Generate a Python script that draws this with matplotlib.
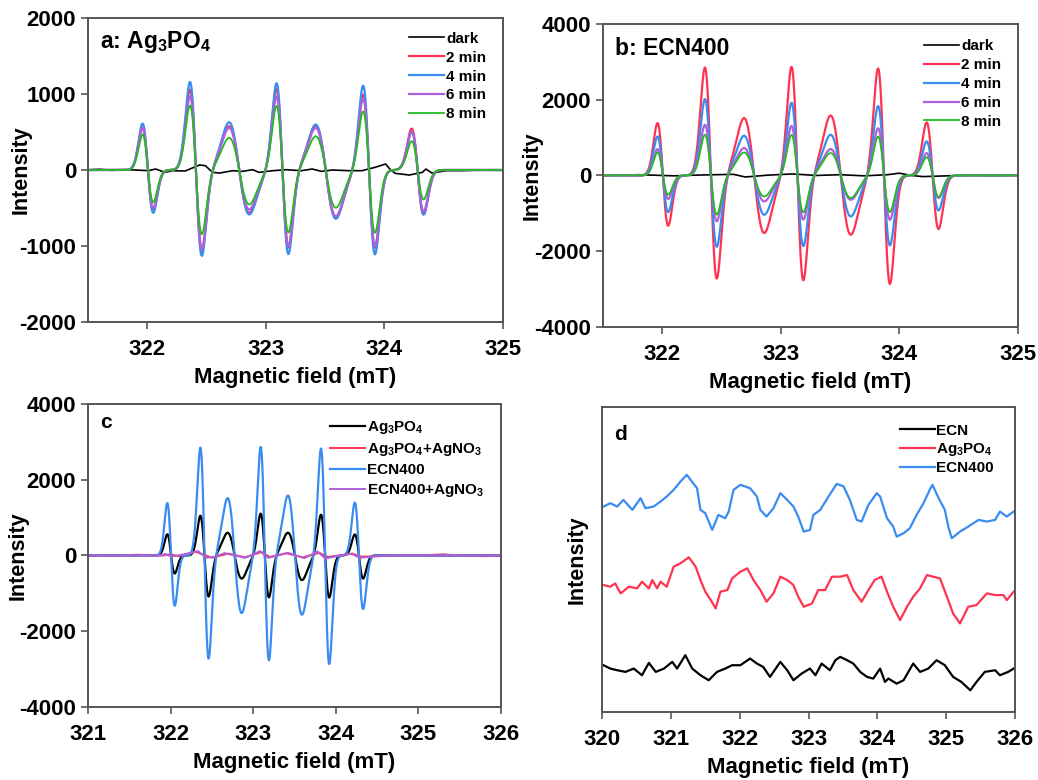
import numpy as np
import matplotlib
matplotlib.use("Agg")
import matplotlib.pyplot as plt

plt.rcParams["font.family"] = ["Liberation Sans", "DejaVu Sans"]
plt.rcParams["font.weight"] = "bold"
plt.rcParams["axes.unicode_minus"] = False
plt.rcParams["mathtext.fontset"] = "custom"
plt.rcParams["mathtext.rm"] = "Liberation Sans:bold"
plt.rcParams["mathtext.bf"] = "Liberation Sans:bold"
plt.rcParams["mathtext.default"] = "rm"

# --- hyperfine lines: field of the upper and lower lobe of each line (mT) ---
line_max = [321.96, 322.36, 322.69, 323.09, 323.42, 323.82, 324.23]
line_min = [322.05, 322.46, 322.86, 323.19, 323.59, 323.92, 324.33]

# panel a: Ag3PO4, lobe heights per line
a_2min_pos = [554, 1058, 575, 1067, 584, 996, 545]
a_2min_neg = [-519, -1067, -563, -1023, -628, -1023, -585]
a_4min_pos = [611, 1159, 628, 1146, 598, 1114, 500]
a_4min_neg = [-563, -1133, -585, -1110, -641, -1110, -585]
a_6min_pos = [554, 970, 554, 970, 554, 949, 510]
a_6min_neg = [-500, -1045, -519, -1001, -607, -1001, -545]
a_8min_pos = [466, 847, 423, 847, 444, 773, 379]
a_8min_neg = [-423, -847, -453, -825, -497, -825, -388]
a_dark_x = [321.47, 321.6, 321.7, 321.8, 321.9, 322.01, 322.07, 322.15, 322.21, 322.32,
            322.44, 322.49, 322.55, 322.61, 322.72, 322.8, 322.89, 322.94, 323.06, 323.17,
            323.3, 323.39, 323.47, 323.56, 323.7, 323.81, 323.92, 324.01, 324.04, 324.09,
            324.21, 324.32, 324.35, 324.4, 324.52, 324.66, 324.8, 325.0]
a_dark_y = [0, 10, -5, 5, 0, -9, 13, -31, -9, -13,
            66, 57, -31, -40, -9, -18, 4, -31, -9, 4,
            -9, 13, -18, 0, -9, -9, 35, 79, 22, -44,
            -66, -31, 13, -40, -9, -9, 0, -4]

# panel b: ECN400
b_2min_pos = [1383, 2850, 1514, 2876, 1583, 2834, 1400]
b_2min_neg = [-1327, -2734, -1520, -2778, -1565, -2866, -1415]
b_4min_pos = [1029, 2016, 1048, 1926, 1074, 1839, 897]
b_4min_neg = [-966, -1890, -1037, -1873, -1082, -1847, -924]
b_6min_pos = [696, 1338, 723, 1311, 696, 1250, 591]
b_6min_neg = [-623, -1214, -686, -1169, -641, -1169, -596]
b_8min_pos = [607, 1074, 607, 1074, 591, 1029, 485]
b_8min_neg = [-509, -1037, -554, -976, -596, -966, -570]
b_dark_x = [321.5, 321.8, 322.1, 322.3, 322.6, 322.7, 322.9, 323.1, 323.3, 323.5,
            323.7, 323.9, 324.0, 324.1, 324.2, 324.4, 324.6, 324.8, 325.0]
b_dark_y = [0, 20, -10, 10, 30, -40, 10, 40, 0, 20,
            -10, 20, 60, 0, -30, -10, 10, 0, 10]

# panel c
c_ag_pos = [560, 1050, 600, 1110, 600, 1080, 555]
c_ag_neg = [-475, -1090, -610, -1110, -650, -1110, -610]
c_agno3_x = [321.0, 321.3, 321.6, 321.9, 322.0, 322.1, 322.3, 322.4, 322.5, 322.7,
             322.9, 323.1, 323.2, 323.4, 323.6, 323.8, 323.9, 324.2, 324.3, 324.5,
             324.8, 325.0, 325.3, 325.5, 325.8, 326.0]
c_agno3_y = [10, -10, 20, 0, 30, -20, 100, 20, -60, 50,
             -50, 90, -40, 60, -50, 70, -40, 50, -30, -20,
             10, 0, 30, 0, -20, 0]
c_ecn_agno3_x = [321.0, 321.9, 321.93, 322.01, 322.15, 322.33, 322.43, 322.55, 322.65, 322.78,
                 322.9, 323.0, 323.08, 323.18, 323.3, 323.42, 323.52, 323.62, 323.78, 323.87,
                 324.05, 324.19, 324.29, 324.45, 324.6, 326.0]
c_ecn_agno3_y = [0, 0, 44, -27, 25, 115, -62, -27, 62, 0,
                 -62, 27, 115, -62, 0, 70, 0, -70, 106, -80,
                 0, 44, -62, -27, 0, 0]

# panel d (arbitrary units, curves already offset)
d_ecn400_x = [320.02, 320.12, 320.22, 320.31, 320.44, 320.56, 320.63, 320.75, 320.85, 320.94,
              321.04, 321.14, 321.23, 321.38, 321.43, 321.5, 321.6, 321.69, 321.79, 321.84,
              321.91, 322.01, 322.15, 322.25, 322.3, 322.39, 322.49, 322.59, 322.69, 322.78,
              322.85, 322.93, 323.02, 323.07, 323.17, 323.29, 323.41, 323.51, 323.6, 323.7,
              323.77, 323.87, 323.99, 324.04, 324.14, 324.23, 324.28, 324.38, 324.47, 324.57,
              324.67, 324.76, 324.8, 324.89, 324.98, 325.03, 325.08, 325.2, 325.32, 325.47,
              325.59, 325.71, 325.78, 325.88, 325.98]
d_ecn400_y = [61.5, 62.5, 61.5, 63.5, 60.5, 64.0, 61.0, 61.5, 63.0, 64.5,
              66.5, 69.0, 71.0, 67.0, 60.5, 59.5, 54.5, 59.0, 58.0, 60.0,
              66.5, 68.0, 67.0, 64.5, 60.5, 58.5, 61.0, 65.5, 63.5, 61.5,
              58.5, 54.0, 54.5, 59.0, 60.5, 64.5, 68.3, 67.5, 63.5, 57.5,
              57.0, 62.0, 65.5, 64.5, 58.0, 55.5, 52.5, 53.5, 55.0, 59.0,
              62.5, 66.5, 68.0, 64.0, 60.5, 55.5, 52.0, 54.0, 55.5, 57.5,
              57.0, 57.5, 60.0, 58.5, 60.0]
d_ag_x = [320.02, 320.12, 320.19, 320.27, 320.39, 320.51, 320.58, 320.68, 320.73, 320.8,
          320.85, 320.94, 321.04, 321.14, 321.26, 321.36, 321.43, 321.5, 321.58, 321.65,
          321.72, 321.82, 321.89, 322.01, 322.11, 322.2, 322.3, 322.39, 322.49, 322.59,
          322.69, 322.78, 322.85, 322.93, 323.05, 323.14, 323.24, 323.34, 323.46, 323.56,
          323.65, 323.77, 323.87, 323.96, 324.06, 324.14, 324.23, 324.33, 324.43, 324.52,
          324.62, 324.72, 324.81, 324.91, 325.01, 325.1, 325.2, 325.32, 325.44, 325.59,
          325.71, 325.83, 325.88, 325.98]
d_ag_y = [38.0, 37.5, 38.5, 35.5, 37.5, 37.0, 39.0, 37.0, 39.5, 37.0,
          39.0, 37.5, 43.5, 44.5, 46.3, 43.5, 39.5, 36.0, 33.5, 31.0,
          36.0, 36.5, 40.0, 42.0, 43.0, 39.5, 36.5, 33.0, 35.5, 40.5,
          39.5, 38.0, 34.5, 31.5, 32.5, 36.5, 36.5, 40.5, 40.5, 41.0,
          36.5, 33.0, 36.5, 39.5, 40.5, 36.0, 31.5, 27.5, 31.5, 34.5,
          37.0, 41.0, 40.5, 40.0, 34.5, 29.5, 26.5, 31.5, 32.0, 35.5,
          35.0, 35.0, 33.5, 36.0]
d_ecn_x = [320.02, 320.12, 320.22, 320.34, 320.46, 320.58, 320.68, 320.78, 320.9, 321.02,
           321.09, 321.21, 321.31, 321.43, 321.55, 321.67, 321.79, 321.89, 322.01, 322.15,
           322.25, 322.34, 322.44, 322.59, 322.69, 322.78, 322.9, 323.02, 323.1, 323.19,
           323.31, 323.39, 323.46, 323.56, 323.65, 323.75, 323.85, 323.94, 324.04, 324.11,
           324.16, 324.28, 324.38, 324.52, 324.62, 324.74, 324.86, 324.98, 325.1, 325.22,
           325.35, 325.44, 325.56, 325.71, 325.78, 325.9, 325.98]
d_ecn_y = [14.0, 13.0, 12.5, 12.0, 13.0, 11.0, 14.7, 12.0, 13.0, 15.0,
           13.0, 17.0, 13.0, 11.0, 9.5, 12.0, 13.0, 14.0, 14.0, 16.0,
           14.5, 13.5, 10.5, 15.0, 12.5, 9.5, 11.5, 13.0, 11.0, 14.5,
           12.5, 15.5, 16.5, 15.5, 14.5, 12.0, 10.5, 10.0, 13.0, 9.0,
           10.0, 8.5, 9.5, 14.5, 12.0, 13.0, 15.5, 14.0, 10.5, 9.0,
           6.5, 9.0, 12.0, 12.5, 11.0, 12.0, 13.0]

RED = "#ff3350"
BLUE = "#3a8cf0"
PURPLE = "#b060d8"
GREEN = "#22bb22"


def spectrum(x, pos, neg):
    # first-derivative lines, each lobe scaled to the height
    y = np.zeros_like(x)
    for xm, xn, p, n in zip(line_max, line_min, pos, neg):
        c = (xm + xn) / 2
        s = (xn - xm) / 2
        u = (x - c) / s
        y += np.where(u < 0, p, -n) * (-u) * np.exp(0.5 - u ** 2 / 2)
    return y


def style(ax, xlim, ylim, yticks, ylab_x):
    ax.set_xlim(*xlim)
    ax.set_ylim(*ylim)
    if yticks is None:
        ax.set_yticks([])
    else:
        ax.set_yticks(yticks)
    ax.set_xticks(range(int(np.ceil(xlim[0])), int(xlim[1]) + 1))
    for sp in ax.spines.values():
        sp.set_color("#555555")
        sp.set_linewidth(1.4)
    ax.tick_params(direction="out", length=5, width=1.2, labelsize=16, color="#555555")
    ax.tick_params(axis="x", pad=7)
    ax.set_xlabel("Magnetic field (mT)", fontsize=16, fontweight="bold")
    ax.set_ylabel("Intensity", fontsize=15.5, fontweight="bold")
    ax.xaxis.set_label_coords(0.5, -0.148)
    ax.yaxis.set_label_coords(ylab_x, 0.5)


fig = plt.figure(figsize=(10.38, 7.8), dpi=100)
ax_a = fig.add_axes([0.0848, 0.5872, 0.3998, 0.3897])
ax_b = fig.add_axes([0.5809, 0.5808, 0.3998, 0.3885])
ax_c = fig.add_axes([0.0848, 0.0936, 0.3979, 0.3885])
ax_d = fig.add_axes([0.5800, 0.0872, 0.3979, 0.3910])

leg_kw = dict(loc="upper right", frameon=False, handlelength=2.3, handletextpad=0.1,
              labelspacing=0.32, borderaxespad=0.3)

# a
x = np.linspace(321.5, 325.0, 1500)
ax_a.plot(a_dark_x, a_dark_y, color="black", lw=1.2, label="dark")
ax_a.plot(x, spectrum(x, a_2min_pos, a_2min_neg), color=RED, lw=1.6, label="2 min")
ax_a.plot(x, spectrum(x, a_4min_pos, a_4min_neg), color=BLUE, lw=1.6, label="4 min")
ax_a.plot(x, spectrum(x, a_6min_pos, a_6min_neg), color=PURPLE, lw=1.6, label="6 min")
ax_a.plot(x, spectrum(x, a_8min_pos, a_8min_neg), color=GREEN, lw=1.3, label="8 min")
style(ax_a, (321.5, 325), (-2000, 2000), [-2000, -1000, 0, 1000, 2000], -0.135)
ax_a.legend(prop={"size": 11, "weight": "bold"}, bbox_to_anchor=(0.985, 0.99), **leg_kw)
ax_a.text(0.03, 0.92, "a: Ag$_3$PO$_4$", transform=ax_a.transAxes, fontsize=16.5,
          fontweight="bold", va="center")

# b
ax_b.plot(b_dark_x, b_dark_y, color="black", lw=1.2, label="dark")
ax_b.plot(x, spectrum(x, b_2min_pos, b_2min_neg), color=RED, lw=1.6, label="2 min")
ax_b.plot(x, spectrum(x, b_4min_pos, b_4min_neg), color=BLUE, lw=1.6, label="4 min")
ax_b.plot(x, spectrum(x, b_6min_pos, b_6min_neg), color=PURPLE, lw=1.6, label="6 min")
ax_b.plot(x, spectrum(x, b_8min_pos, b_8min_neg), color=GREEN, lw=1.3, label="8 min")
style(ax_b, (321.5, 325), (-4000, 4000), [-4000, -2000, 0, 2000, 4000], -0.145)
ax_b.legend(prop={"size": 11, "weight": "bold"}, bbox_to_anchor=(0.985, 0.985), **leg_kw)
ax_b.text(0.03, 0.92, "b: ECN400", transform=ax_b.transAxes, fontsize=16.5,
          fontweight="bold", va="center")

# c
xc = np.linspace(321.0, 326.0, 2000)
ax_c.plot(xc, spectrum(xc, c_ag_pos, c_ag_neg), color="black", lw=1.6, label="Ag$_3$PO$_4$")
ax_c.plot(c_agno3_x, c_agno3_y, color=RED, lw=1.4, label="Ag$_3$PO$_4$+AgNO$_3$")
ax_c.plot(xc, spectrum(xc, b_2min_pos, b_2min_neg), color=BLUE, lw=1.6, label="ECN400")
ax_c.plot(c_ecn_agno3_x, c_ecn_agno3_y, color=PURPLE, lw=1.4, label="ECN400+AgNO$_3$")
style(ax_c, (321, 326), (-4000, 4000), [-4000, -2000, 0, 2000, 4000], -0.145)
ax_c.legend(prop={"size": 11}, bbox_to_anchor=(0.985, 0.985), **leg_kw)
ax_c.text(0.03, 0.94, "c", transform=ax_c.transAxes, fontsize=15,
          fontweight="bold", va="center")

# d
ax_d.plot(d_ecn_x, d_ecn_y, color="black", lw=1.6, label="ECN")
ax_d.plot(d_ag_x, d_ag_y, color=RED, lw=1.6, label="Ag$_3$PO$_4$")
ax_d.plot(d_ecn400_x, d_ecn400_y, color=BLUE, lw=1.6, label="ECN400")
style(ax_d, (320, 326), (0, 91.3), None, -0.036)
d_kw = dict(leg_kw, labelspacing=0.2)
ax_d.legend(prop={"size": 11}, bbox_to_anchor=(0.975, 0.98), **d_kw)
ax_d.text(0.03, 0.91, "d", transform=ax_d.transAxes, fontsize=15,
          fontweight="bold", va="center")

fig.savefig("out.png", dpi=100)
plt.close(fig)
